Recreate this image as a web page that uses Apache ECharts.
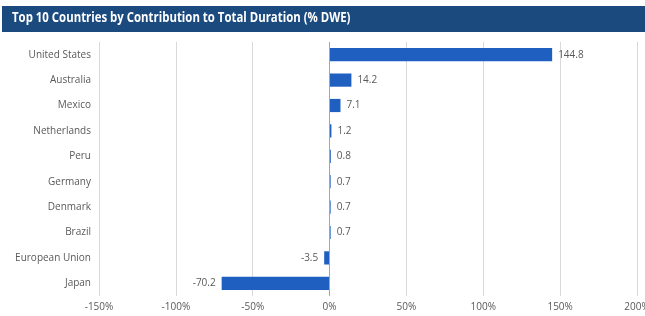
<!DOCTYPE html>
<html>
<head>
<meta charset="utf-8">
<script src="https://cdn.jsdelivr.net/npm/echarts@6/dist/echarts.min.js"></script>
<style>
  html, body { margin: 0; padding: 0; background: #fff; }
  #chart { width: 645px; height: 316px; }
</style>
</head>
<body>
<div id="chart"></div>
<script>
const countries = ['United States', 'Australia', 'Mexico', 'Netherlands', 'Peru', 'Germany', 'Denmark', 'Brazil', 'European Union', 'Japan']
const contribution = [144.8, 14.2, 7.1, 1.2, 0.8, 0.7, 0.7, 0.7, -3.5, -70.2]
const titleText = 'Top 10 Countries by Contribution to Total Duration (% DWE)'

const chart = echarts.init(document.getElementById('chart'))

chart.setOption({
  animation: false,
  graphic: [{
    type: 'rect',
    shape: { x: 2, y: 6, width: 643, height: 26 },
    style: { fill: '#1b4a7f' }
  }, {
    type: 'text',
    x: 12,
    y: 10,
    scaleX: 0.76,
    style: {
      text: titleText,
      fill: '#ffffff',
      font: 'bold 15px "Open Sans"'
    }
  }],
  grid: {
    left: 99,
    right: 8,
    top: 42,
    bottom: 20,
    outerBoundsMode: 'none'
  },
  xAxis: {
    type: 'value',
    min: -150,
    max: 200,
    interval: 50,
    axisLine: { show: false },
    axisTick: { show: false },
    axisLabel: {
      formatter: '{value}%',
      color: '#595959',
      fontSize: 10,
      fontFamily: 'Open Sans',
      margin: 6
    },
    splitLine: { lineStyle: { color: '#d9d9d9', width: 1 } }
  },
  yAxis: {
    type: 'category',
    data: countries,
    inverse: true,
    axisLine: { show: false },
    axisTick: { show: false },
    axisLabel: {
      color: '#595959',
      fontSize: 10,
      fontFamily: 'Open Sans',
      margin: 8
    }
  },
  series: [{
    type: 'bar',
    data: contribution.map(v => ({
      value: v,
      label: { position: v < 0 ? 'left' : 'right' }
    })),
    barWidth: '52%',
    itemStyle: { color: '#1f5fbf' },
    label: {
      show: true,
      color: '#595959',
      fontSize: 10,
      fontFamily: 'Open Sans',
      distance: 6
    },
    markLine: {
      silent: true,
      symbol: 'none',
      label: { show: false },
      lineStyle: { color: '#a6a6a6', type: 'solid', width: 1 },
      data: [{ xAxis: 0 }]
    }
  }]
})
</script>
</body>
</html>
